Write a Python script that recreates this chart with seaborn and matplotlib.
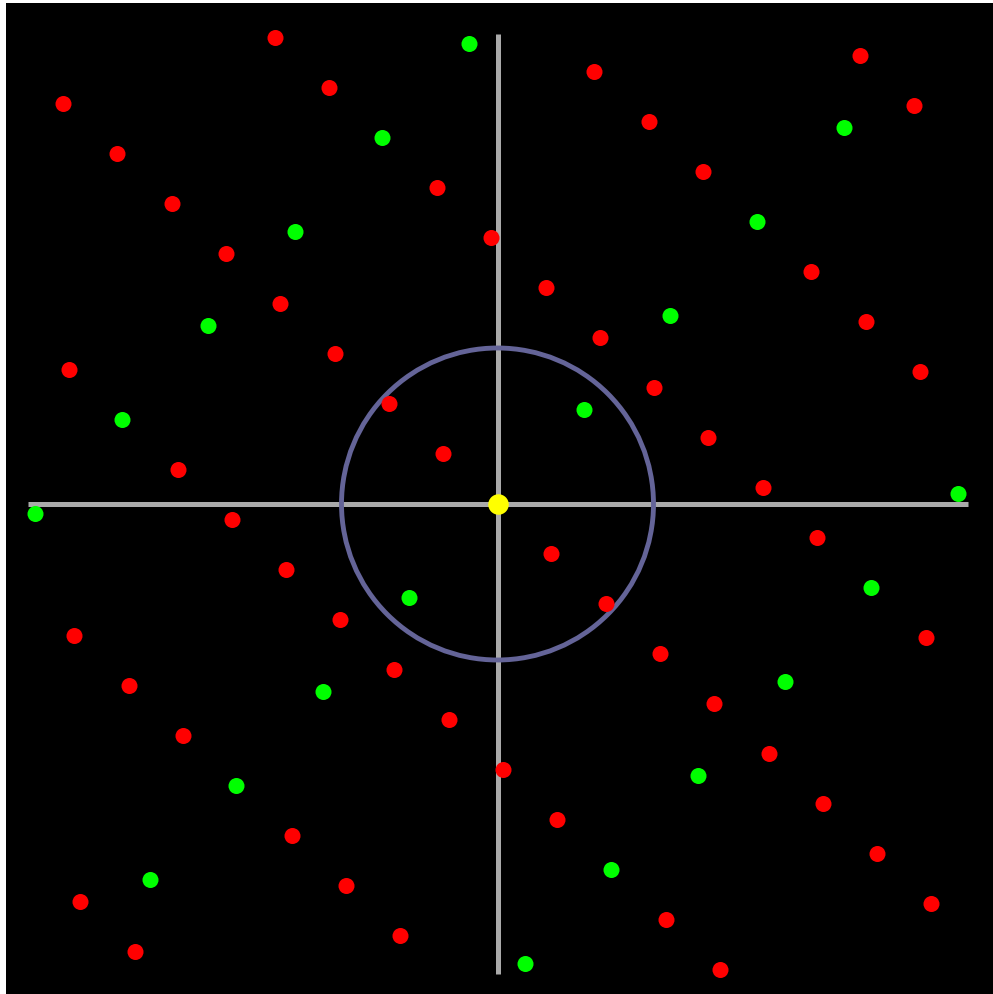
import matplotlib
matplotlib.use("Agg")
import matplotlib.pyplot as plt
import seaborn as sns
import pandas as pd
import numpy as np
from matplotlib.patches import Circle

# Point positions (x right, y up) relative to the origin
red_x = [-434, -380, -325, -271, -217, -162, -108, -54,
         -428, -319, -265, -211, -157, -103, -48, 6, 60, 169, 223,
         -423, -368, -314, -205, -151, -97,
         -417, -362,
         -222, -168, -60, -6, 49, 103, 157, 211, 266, 320, 429,
         97, 152, 206, 314, 369, 423,
         363, 417,
         54, 109, 163, 217, 272, 326, 380, 434]
red_y = [400, 350, 300, 250, 200, 150, 100, 50,
         134, 34, -16, -66, -116, -166, -216, -266, -316, -416, -466,
         -132, -182, -232, -332, -382, -432,
         -398, -448,
         466, 416, 316, 266, 216, 166, 116, 66, 16, -34, -134,
         432, 382, 332, 232, 182, 132,
         448, 398,
         -50, -100, -150, -200, -250, -300, -350, -400]

green_x = [-28, -115, -202, -289, -375, -462,
           347, 260, 173, 87, -88, -174, -261, -347,
           461, 374, 288, 201, 114, 28]
green_y = [460, 366, 272, 178, 84, -10,
           376, 282, 188, 94, -94, -188, -282, -376,
           10, -84, -178, -272, -366, -460]

center_x = [0]
center_y = [0]

circle_radius = 156
axis_half_length = 470

x_limits = (-491.5, 495.5)
y_limits = (-490.0, 501.0)

points = pd.DataFrame({
    "x": red_x + green_x,
    "y": red_y + green_y,
    "kind": ["red"] * len(red_x) + ["green"] * len(green_x),
})
origin = pd.DataFrame({"x": center_x, "y": center_y})

sns.set_theme(style="white")
fig = plt.figure(figsize=(9.93, 9.95), dpi=100, facecolor="white")
ax = fig.add_axes([6 / 993, 0, 987 / 993, 991 / 995])
ax.set_facecolor("black")

# Cross-hair axes
ax.plot([-axis_half_length, axis_half_length], [0, 0], color="#aaaaaa",
        linewidth=3.6, solid_capstyle="butt", zorder=1)
ax.plot([0, 0], [-axis_half_length, axis_half_length], color="#aaaaaa",
        linewidth=3.6, solid_capstyle="butt", zorder=1)

# Unit circle
ax.add_patch(Circle((0, 0), circle_radius, fill=False, edgecolor="#646498",
                    linewidth=3.5, zorder=2))

sns.scatterplot(data=points, x="x", y="y", hue="kind",
                palette={"red": "#ff0000", "green": "#00ff00"},
                s=133, linewidth=0, legend=False, ax=ax, zorder=3)
sns.scatterplot(data=origin, x="x", y="y", color="#ffff00", s=218,
                linewidth=0, legend=False, ax=ax, zorder=4)

ax.set_xlim(*x_limits)
ax.set_ylim(*y_limits)
ax.set_xlabel("")
ax.set_ylabel("")
ax.set_xticks([])
ax.set_yticks([])
for spine in ax.spines.values():
    spine.set_visible(False)

fig.savefig("out.png", dpi=100, facecolor="white")
